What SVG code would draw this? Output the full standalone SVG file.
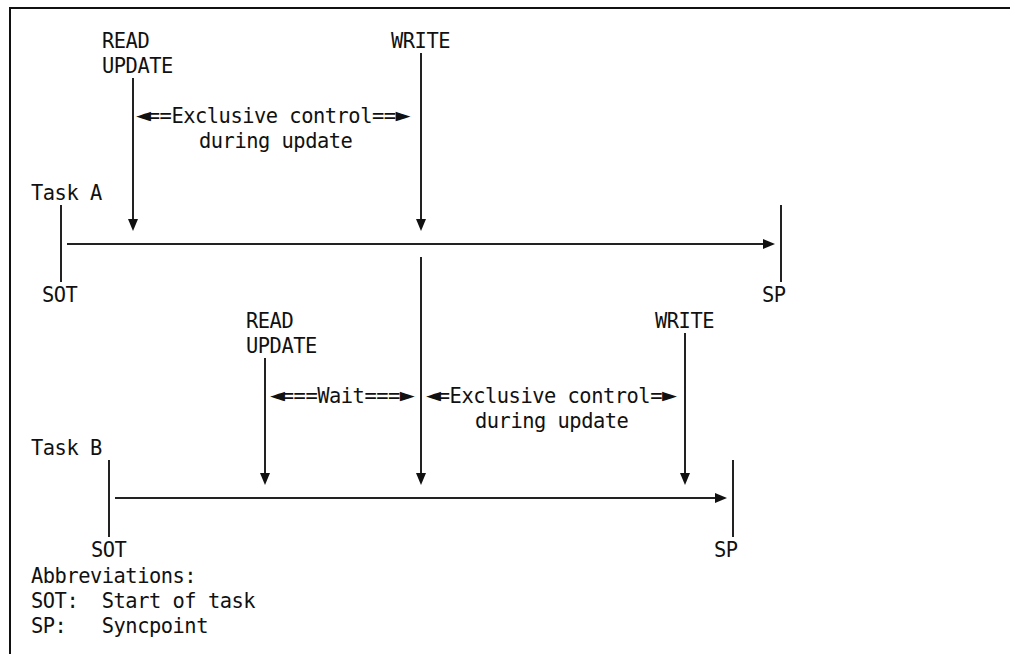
<svg xmlns="http://www.w3.org/2000/svg" width="1010" height="654" viewBox="0 0 1010 654">
  <style>
    text { font-family: "DejaVu Sans Mono", "Liberation Mono", monospace; font-size: 20.4px; letter-spacing: -0.48px; fill: #111; white-space: pre; }
    /* pointer glyphs drawn larger while keeping the same column pitch */
    .ah { font-size: 25px; letter-spacing: -3.25px; }
    .ln { stroke: #222; stroke-width: 2; fill: none; }
    .frame { stroke: #111; stroke-width: 2; fill: none; }
  </style>
  <defs>
    <marker id="head" viewBox="0 0 12 10" refX="8" refY="5" markerWidth="12" markerHeight="10" markerUnits="userSpaceOnUse" orient="auto">
      <path d="M0,0 L12,5 L0,10 z" fill="#111"/>
    </marker>
  </defs>

  <!-- page frame: top and left rule -->
  <path class="frame" d="M10,654 L10,8 L1010,8"/>

  <!-- Task A timeline -->
  <g id="taskA">
    <text x="31" y="200">Task A</text>
    <line class="ln" x1="61" y1="205" x2="61" y2="282"/>
    <text x="42" y="302">SOT</text>
    <line class="ln" x1="781" y1="205" x2="781" y2="282"/>
    <text x="762" y="302">SP</text>
  </g>

  <g id="taskA-read">
    <text x="102" y="48">READ</text>
    <text x="102" y="73">UPDATE</text>
  </g>
  <g id="taskA-write">
    <text x="391" y="48">WRITE</text>
  </g>
  <g id="taskA-exclusive">
    <text x="136" y="123"><tspan class="ah">◄</tspan>==Exclusive control==<tspan class="ah">►</tspan></text>
    <text x="199" y="148">during update</text>
  </g>

  <!-- Task B timeline -->
  <g id="taskB">
    <text x="31" y="455">Task B</text>
    <line class="ln" x1="109" y1="460" x2="109" y2="537"/>
    <text x="91" y="557">SOT</text>
    <line class="ln" x1="733" y1="460" x2="733" y2="537"/>
    <text x="714" y="557">SP</text>
  </g>

  <g id="taskB-read">
    <text x="246" y="328">READ</text>
    <text x="246" y="353">UPDATE</text>
  </g>
  <g id="taskB-write">
    <text x="655" y="328">WRITE</text>
  </g>
  <g id="taskB-wait">
    <text x="270" y="403"><tspan class="ah">◄</tspan>===Wait===<tspan class="ah">►</tspan></text>
  </g>
  <g id="taskB-exclusive">
    <text x="426" y="403"><tspan class="ah">◄</tspan>=Exclusive control=<tspan class="ah">►</tspan></text>
    <text x="475" y="428">during update</text>
  </g>

  <!-- legend -->
  <g id="legend">
    <text x="31" y="583">Abbreviations:</text>
    <text x="31" y="608">SOT:  Start of task</text>
    <text x="31" y="633">SP:   Syncpoint</text>
  </g>

  <!-- connectors -->
  <g id="connectors">
    <line class="ln" x1="67" y1="244" x2="771" y2="244" marker-end="url(#head)"/>
    <line class="ln" x1="133" y1="78" x2="133" y2="227" marker-end="url(#head)"/>
    <line class="ln" x1="421" y1="53" x2="421" y2="227" marker-end="url(#head)"/>
    <line class="ln" x1="421" y1="257" x2="421" y2="481" marker-end="url(#head)"/>
    <line class="ln" x1="265" y1="358" x2="265" y2="481" marker-end="url(#head)"/>
    <line class="ln" x1="685" y1="333" x2="685" y2="481" marker-end="url(#head)"/>
    <line class="ln" x1="115" y1="498" x2="723" y2="498" marker-end="url(#head)"/>
  </g>
</svg>
